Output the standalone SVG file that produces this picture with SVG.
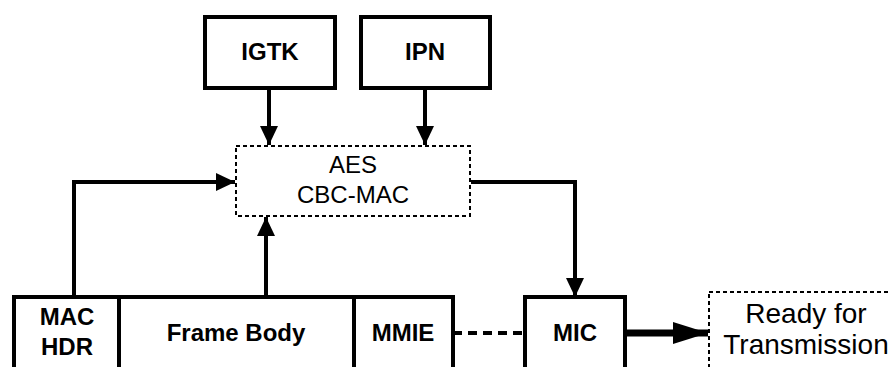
<svg xmlns="http://www.w3.org/2000/svg" width="891" height="367" viewBox="0 0 891 367">
<style>
.box{fill:#fff;stroke:#000;stroke-width:4}
.dbox{fill:#fff;stroke:#000;stroke-width:2;stroke-dasharray:4 3}
.b{font-family:"Liberation Sans",Arial,sans-serif;font-weight:bold;font-size:24px;text-anchor:middle;fill:#000}
.r{font-family:"Liberation Sans",Arial,sans-serif;font-size:24px;text-anchor:middle;fill:#000}
.c{fill:none;stroke:#000;stroke-width:4}
</style>
<defs>
<marker id="ah" markerUnits="userSpaceOnUse" markerWidth="20" markerHeight="18" refX="19" refY="9" orient="auto">
<path d="M0,0 L19,9 L0,18 Z" fill="#000"/>
</marker>
<marker id="bh" markerUnits="userSpaceOnUse" markerWidth="36" markerHeight="24" refX="35" refY="12" orient="auto">
<path d="M0,1 L35,12 L0,23 Z" fill="#000"/>
</marker>
</defs>
<g id="connectors">
<path class="c" d="M269,88 V145" marker-end="url(#ah)"/>
<path class="c" d="M425,88 V145" marker-end="url(#ah)"/>
<path class="c" d="M74,297 V182 H235" marker-end="url(#ah)"/>
<path class="c" d="M266,297 V217" marker-end="url(#ah)"/>
<path class="c" d="M471,182 H575 V297" marker-end="url(#ah)"/>
<path d="M453,333 H525" fill="none" stroke="#000" stroke-width="4" stroke-dasharray="9 6"/>
<path d="M625,333 H708" fill="none" stroke="#000" stroke-width="7" marker-end="url(#bh)"/>
</g>
<g id="igtk">
<rect class="box" x="205" y="17" width="130" height="71"/>
<text class="b" x="270" y="60">IGTK</text>
</g>
<g id="ipn">
<rect class="box" x="361" y="17" width="129" height="71"/>
<text class="b" x="425" y="60">IPN</text>
</g>
<g id="aes">
<rect class="dbox" x="236" y="146" width="234" height="70"/>
<text class="r" x="353" y="173">AES</text>
<text class="r" x="353" y="203">CBC-MAC</text>
</g>
<g id="frame">
<rect class="box" x="14" y="297" width="439" height="80"/>
<line class="c" x1="119" y1="297" x2="119" y2="377"/>
<line class="c" x1="354" y1="297" x2="354" y2="377"/>
</g>
<g id="machdr">
<text class="b" x="67" y="325">MAC</text>
<text class="b" x="67" y="355">HDR</text>
</g>
<g id="framebody">
<text class="b" x="236" y="341">Frame Body</text>
</g>
<g id="mmie">
<text class="b" x="403" y="341">MMIE</text>
</g>
<g id="mic">
<rect class="box" x="525" y="297" width="100" height="80"/>
<text class="b" x="575" y="341">MIC</text>
</g>
<g id="ready">
<rect class="dbox" x="709" y="292" width="200" height="90"/>
<text class="r" x="806" y="323" style="font-size:28px">Ready for</text>
<text class="r" x="806" y="354" style="font-size:28px">Transmission</text>
</g>
</svg>
